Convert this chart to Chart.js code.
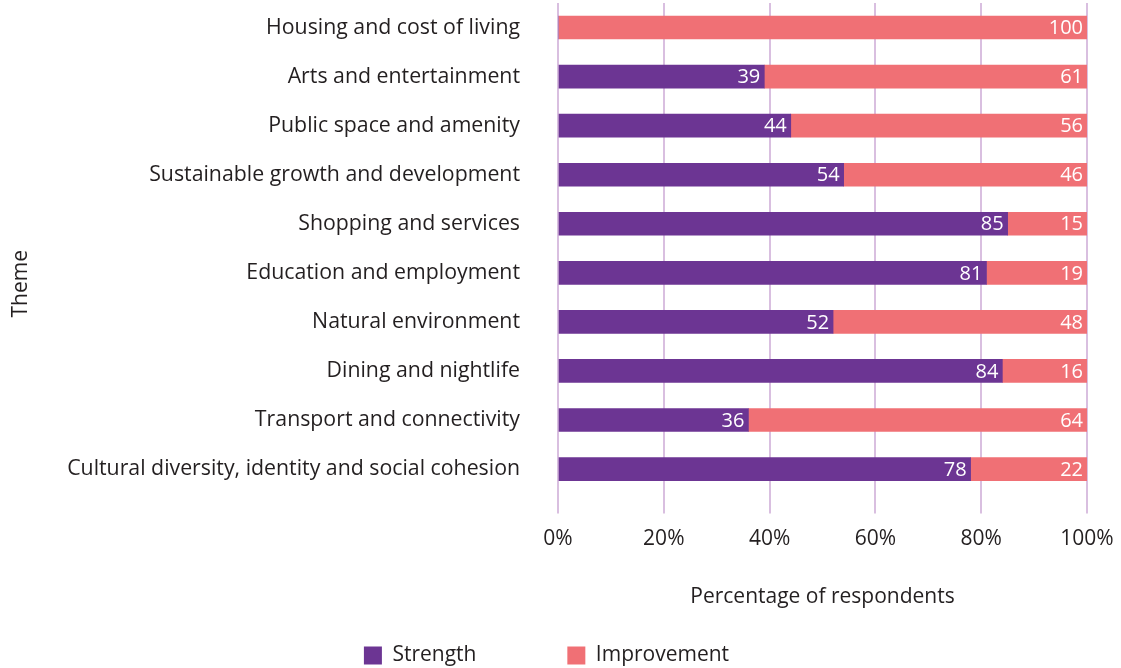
<!DOCTYPE html>
<html>
<head>
<meta charset="utf-8">
<title>Strengths and improvements by theme</title>
<script src="https://cdn.jsdelivr.net/npm/chart.js@4.4.0/dist/chart.umd.min.js"></script>
<style>
  html, body { margin: 0; padding: 0; background: #fff; }
  #wrap { width: 1121px; height: 668px; }
</style>
</head>
<body>
<div id="wrap"><canvas id="myChart"></canvas></div>
<script>
// data
const themes = [
  'Housing and cost of living',
  'Arts and entertainment',
  'Public space and amenity',
  'Sustainable growth and development',
  'Shopping and services',
  'Education and employment',
  'Natural environment',
  'Dining and nightlife',
  'Transport and connectivity',
  'Cultural diversity, identity and social cohesion'
];
const strength = [0, 39, 44, 54, 85, 81, 52, 84, 36, 78];
const improvement = [100, 61, 56, 46, 15, 19, 48, 16, 64, 22];
const seriesNames = ['Strength', 'Improvement'];

const FONT = '"Open Sans", sans-serif';
const TEXT = '#231f20';
const SIZE = 21;

// white value labels at the right end of each segment
const barLabels = {
  id: 'barLabels',
  afterDatasetsDraw(chart) {
    const ctx = chart.ctx;
    ctx.save();
    ctx.font = '20px ' + FONT;
    ctx.fillStyle = '#ffffff';
    ctx.textAlign = 'right';
    ctx.textBaseline = 'middle';
    chart.data.datasets.forEach((ds, i) => {
      chart.getDatasetMeta(i).data.forEach((bar, j) => {
        const v = ds.data[j];
        if (!v) return;
        ctx.fillText(String(v), bar.x - 4, bar.y + 1);
      });
    });
    ctx.restore();
  }
};

// drop the automatic edge padding, layout.padding handles it
const noEdgePadding = scale => {
  scale.paddingTop = 0;
  scale.paddingBottom = 0;
  scale.paddingLeft = 0;
  scale.paddingRight = 0;
};

const ctx = document.getElementById('myChart').getContext('2d');
new Chart(ctx, {
  type: 'bar',
  data: {
    labels: themes,
    datasets: [
      // trailing spaces widen the gap between the two legend items
      { label: seriesNames[0] + '             ', data: strength, backgroundColor: '#6c3593', barThickness: 23 },
      { label: seriesNames[1], data: improvement, backgroundColor: '#f07075', barThickness: 23 }
    ]
  },
  options: {
    indexAxis: 'y',
    responsive: true,
    maintainAspectRatio: false,
    animation: false,
    layout: { padding: { left: 6, top: 3, right: 34, bottom: -8 } },
    scales: {
      x: {
        stacked: true,
        min: 0,
        max: 100,
        afterFit: noEdgePadding,
        border: { display: false },
        grid: { color: '#d9bfe0', lineWidth: 2, tickLength: 20, drawTicks: true },
        ticks: {
          stepSize: 20,
          padding: 13,
          color: TEXT,
          font: { family: FONT, size: SIZE },
          callback: v => v + '%'
        },
        title: {
          display: true,
          text: 'Percentage of respondents',
          color: TEXT,
          font: { family: FONT, size: SIZE },
          padding: { top: 20, bottom: 15 }
        }
      },
      y: {
        stacked: true,
        // long labels: the axis would be capped at half the width
        afterFit: scale => { noEdgePadding(scale); scale.width = 552; },
        border: { display: false },
        grid: { display: false, drawTicks: false },
        ticks: {
          padding: 38,
          color: TEXT,
          font: { family: FONT, size: 21.3 }
        },
        title: {
          display: true,
          text: 'Theme' + '             ',
          color: TEXT,
          font: { family: FONT, size: SIZE },
          padding: { top: 2, bottom: 42 }
        }
      }
    },
    plugins: {
      legend: {
        position: 'bottom',
        labels: {
          boxWidth: 18,
          boxHeight: 18,
          padding: 20,
          color: TEXT,
          font: { family: FONT, size: SIZE }
        }
      },
      tooltip: { enabled: false }
    }
  },
  plugins: [barLabels]
});
</script>
</body>
</html>
